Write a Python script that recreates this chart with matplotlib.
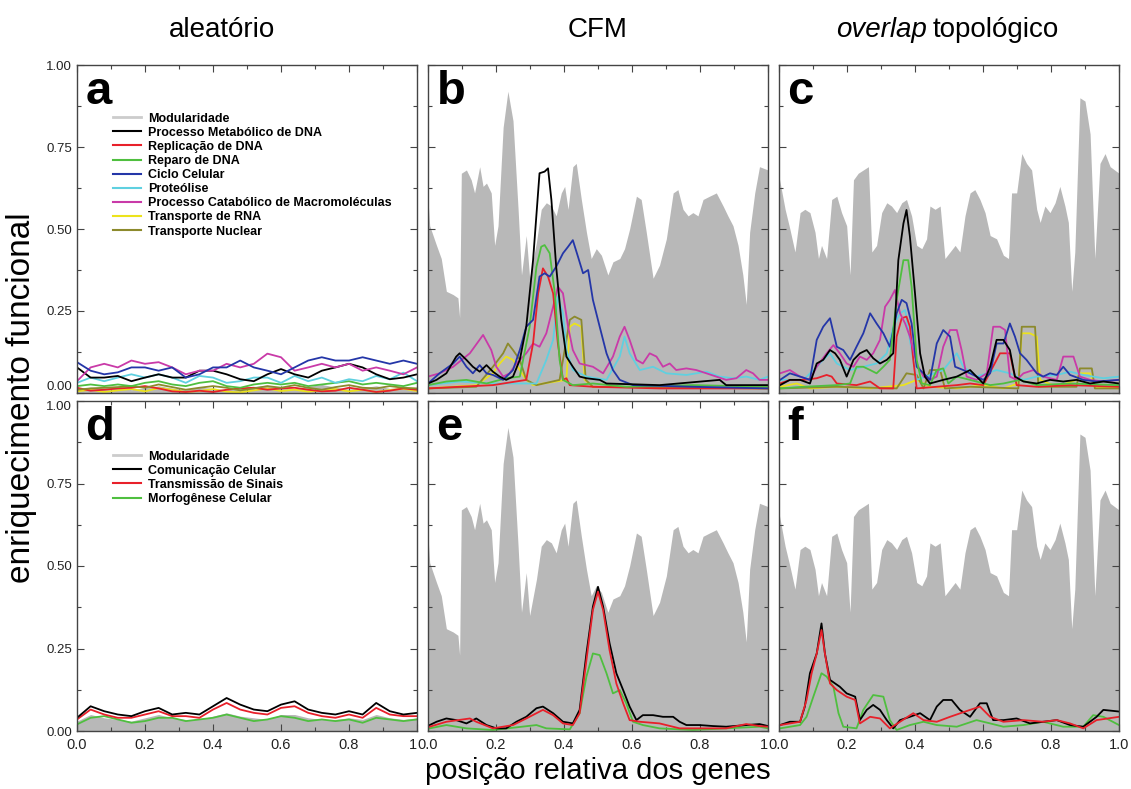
import numpy as np
import matplotlib.pyplot as plt
from matplotlib.lines import Line2D
from matplotlib.ticker import MultipleLocator, FormatStrFormatter

plt.rcParams['font.family'] = ['Liberation Sans', 'DejaVu Sans']

# ---------------- data ----------------
col_titles = ['aleatório', 'CFM', 'topológico']
top_labels = ['Modularidade', 'Processo Metabólico de DNA', 'Replicação de DNA',
              'Reparo de DNA', 'Ciclo Celular', 'Proteólise',
              'Processo Catabólico de Macromoléculas', 'Transporte de RNA',
              'Transporte Nuclear']
bot_labels = ['Modularidade', 'Comunicação Celular', 'Transmissão de Sinais',
              'Morfogênese Celular']

# modularity, CFM ordering (panels b, e)
mod_cfm_x = [0.0, 0.005, 0.025, 0.039, 0.054, 0.074, 0.088, 0.093, 0.098, 0.113, 0.127, 0.137,
             0.152, 0.162, 0.172, 0.186, 0.196, 0.206, 0.221, 0.235, 0.25, 0.265, 0.275, 0.289,
             0.299, 0.319, 0.333, 0.348, 0.363, 0.377, 0.392, 0.402, 0.412, 0.426, 0.436, 0.451,
             0.466, 0.48, 0.495, 0.51, 0.529, 0.544, 0.564, 0.578, 0.593, 0.613, 0.627, 0.642,
             0.662, 0.681, 0.701, 0.721, 0.735, 0.75, 0.765, 0.779, 0.794, 0.809, 0.828, 0.848,
             0.868, 0.882, 0.897, 0.912, 0.926, 0.936, 0.946, 0.961, 0.975, 1.0]
mod_cfm_y = [0.59, 0.51, 0.45, 0.41, 0.31, 0.30, 0.29, 0.23, 0.67, 0.68, 0.65, 0.61,
             0.69, 0.63, 0.64, 0.61, 0.45, 0.51, 0.81, 0.92, 0.83, 0.56, 0.36, 0.48,
             0.35, 0.46, 0.56, 0.58, 0.57, 0.54, 0.61, 0.63, 0.56, 0.69, 0.70, 0.59,
             0.49, 0.41, 0.44, 0.42, 0.36, 0.40, 0.41, 0.44, 0.50, 0.60, 0.59, 0.49,
             0.35, 0.39, 0.47, 0.61, 0.62, 0.56, 0.54, 0.55, 0.54, 0.59, 0.60, 0.61,
             0.57, 0.54, 0.51, 0.45, 0.36, 0.27, 0.49, 0.61, 0.69, 0.68]

# modularity, topological overlap ordering (panels c, f)
mod_ovl_x = [0.0, 0.018, 0.032, 0.047, 0.062, 0.076, 0.091, 0.106, 0.116, 0.125, 0.140, 0.155,
             0.17, 0.184, 0.199, 0.209, 0.219, 0.233, 0.248, 0.263, 0.273, 0.287, 0.302, 0.317,
             0.331, 0.346, 0.361, 0.375, 0.39, 0.405, 0.42, 0.434, 0.444, 0.459, 0.474, 0.488,
             0.503, 0.518, 0.532, 0.547, 0.562, 0.576, 0.591, 0.606, 0.621, 0.64, 0.66, 0.675,
             0.684, 0.699, 0.714, 0.728, 0.743, 0.758, 0.768, 0.782, 0.797, 0.812, 0.826, 0.841,
             0.851, 0.861, 0.87, 0.885, 0.9, 0.915, 0.929, 0.944, 0.959, 0.974, 1.0]
mod_ovl_y = [0.66, 0.56, 0.50, 0.43, 0.55, 0.56, 0.55, 0.49, 0.41, 0.45, 0.41, 0.59,
             0.60, 0.55, 0.51, 0.36, 0.65, 0.67, 0.68, 0.69, 0.43, 0.45, 0.55, 0.58,
             0.57, 0.55, 0.58, 0.59, 0.54, 0.45, 0.44, 0.47, 0.57, 0.56, 0.57, 0.41,
             0.43, 0.45, 0.43, 0.54, 0.61, 0.62, 0.59, 0.55, 0.48, 0.47, 0.42, 0.41,
             0.61, 0.61, 0.73, 0.70, 0.68, 0.56, 0.52, 0.57, 0.55, 0.58, 0.63, 0.57,
             0.52, 0.31, 0.43, 0.90, 0.89, 0.79, 0.41, 0.70, 0.73, 0.69, 0.67]

# random ordering (panels a, d)
ale_x = [0.00, 0.04, 0.08, 0.12, 0.16, 0.20, 0.24, 0.28, 0.32, 0.36, 0.40, 0.44, 0.48,
         0.52, 0.56, 0.60, 0.64, 0.68, 0.72, 0.76, 0.80, 0.84, 0.88, 0.92, 0.96, 1.00]
a_mod = [0.012, 0.018, 0.015, 0.020, 0.010, 0.016, 0.022, 0.015, 0.010, 0.018, 0.014, 0.010, 0.016,
         0.020, 0.024, 0.015, 0.012, 0.020, 0.026, 0.018, 0.012, 0.016, 0.022, 0.014, 0.018, 0.015]
a_black = [0.078, 0.047, 0.047, 0.052, 0.036, 0.047, 0.057, 0.047, 0.047, 0.068, 0.068, 0.057, 0.042,
           0.036, 0.057, 0.073, 0.057, 0.047, 0.068, 0.078, 0.089, 0.078, 0.057, 0.042, 0.047, 0.057]
a_red = [0.016, 0.007, 0.010, 0.014, 0.016, 0.021, 0.014, 0.005, 0.003, 0.007, 0.003, 0.010, 0.014,
         0.016, 0.010, 0.014, 0.016, 0.010, 0.005, 0.007, 0.016, 0.010, 0.003, 0.007, 0.014, 0.010]
a_green = [0.021, 0.026, 0.021, 0.026, 0.021, 0.031, 0.036, 0.026, 0.021, 0.031, 0.036, 0.021, 0.016,
           0.026, 0.031, 0.026, 0.031, 0.021, 0.026, 0.031, 0.036, 0.026, 0.031, 0.026, 0.021, 0.031]
a_blue = [0.094, 0.068, 0.057, 0.063, 0.078, 0.078, 0.068, 0.078, 0.047, 0.057, 0.078, 0.078, 0.099,
          0.078, 0.068, 0.057, 0.078, 0.099, 0.109, 0.099, 0.099, 0.109, 0.099, 0.089, 0.099, 0.089]
a_cyan = [0.031, 0.047, 0.036, 0.047, 0.057, 0.047, 0.057, 0.047, 0.031, 0.052, 0.047, 0.031, 0.036,
          0.047, 0.047, 0.031, 0.052, 0.036, 0.047, 0.031, 0.042, 0.036, 0.052, 0.042, 0.062, 0.036]
a_magenta = [0.036, 0.078, 0.089, 0.078, 0.099, 0.089, 0.094, 0.078, 0.057, 0.068, 0.068, 0.089, 0.078,
             0.089, 0.120, 0.109, 0.068, 0.078, 0.089, 0.078, 0.089, 0.068, 0.078, 0.068, 0.057, 0.078]
a_yellow = [0.005, 0.010, 0.003, 0.008, 0.012, 0.005, 0.015, 0.010, 0.003, 0.006, 0.012, 0.004, 0.002,
            0.008, 0.014, 0.006, 0.010, 0.004, 0.008, 0.012, 0.005, 0.010, 0.003, 0.009, 0.013, 0.006]
a_olive = [0.010, 0.014, 0.016, 0.018, 0.021, 0.016, 0.026, 0.018, 0.010, 0.016, 0.021, 0.016, 0.008,
           0.014, 0.021, 0.016, 0.024, 0.016, 0.010, 0.018, 0.024, 0.016, 0.014, 0.021, 0.016, 0.014]

d_mod = [0.030, 0.050, 0.040, 0.035, 0.030, 0.040, 0.050, 0.040, 0.035, 0.035, 0.045, 0.055, 0.045,
         0.040, 0.035, 0.050, 0.050, 0.040, 0.035, 0.035, 0.040, 0.035, 0.050, 0.040, 0.035, 0.040]
d_black = [0.040, 0.075, 0.060, 0.050, 0.045, 0.060, 0.070, 0.050, 0.055, 0.050, 0.075, 0.100, 0.080,
           0.065, 0.060, 0.080, 0.090, 0.065, 0.055, 0.050, 0.060, 0.050, 0.085, 0.060, 0.050, 0.055]
d_red = [0.035, 0.065, 0.050, 0.040, 0.040, 0.050, 0.060, 0.045, 0.045, 0.040, 0.065, 0.085, 0.065,
         0.055, 0.050, 0.070, 0.075, 0.055, 0.045, 0.040, 0.050, 0.040, 0.070, 0.050, 0.045, 0.045]
d_green = [0.020, 0.040, 0.045, 0.035, 0.025, 0.030, 0.040, 0.040, 0.030, 0.035, 0.040, 0.050, 0.040,
           0.030, 0.035, 0.045, 0.040, 0.030, 0.035, 0.030, 0.035, 0.025, 0.040, 0.035, 0.030, 0.035]

# panel b (CFM, top terms)
b_black_x = [0, 0.025, 0.054, 0.083, 0.093, 0.113, 0.132, 0.152, 0.172, 0.191, 0.211, 0.230, 0.250, 0.270,
             0.289, 0.309, 0.328, 0.343, 0.353, 0.363, 0.377, 0.392, 0.407, 0.426, 0.446, 0.466, 0.505,
             0.525, 0.681, 0.858, 0.877, 1.0]
b_black_y = [0.029, 0.040, 0.060, 0.111, 0.121, 0.101, 0.080, 0.065, 0.085, 0.065, 0.050, 0.040, 0.050, 0.101,
             0.202, 0.405, 0.670, 0.675, 0.685, 0.588, 0.385, 0.223, 0.111, 0.080, 0.050, 0.045, 0.040,
             0.029, 0.024, 0.040, 0.024, 0.024]
b_red_x = [0, 0.093, 0.191, 0.289, 0.309, 0.324, 0.338, 0.353, 0.368, 0.382, 0.397, 0.407, 0.417, 0.485, 0.681, 1.0]
b_red_y = [0.014, 0.019, 0.024, 0.040, 0.151, 0.304, 0.380, 0.355, 0.304, 0.151, 0.040, 0.045, 0.024, 0.019, 0.014, 0.014]
b_green_x = [0, 0.054, 0.113, 0.172, 0.230, 0.270, 0.299, 0.319, 0.333, 0.343, 0.358, 0.373, 0.387, 0.397,
             0.426, 0.485, 0.583, 0.779, 1.0]
b_green_y = [0.024, 0.035, 0.040, 0.029, 0.045, 0.050, 0.202, 0.385, 0.446, 0.451, 0.426, 0.304, 0.101, 0.040,
             0.024, 0.029, 0.019, 0.024, 0.019]
b_blue_x = [0, 0.034, 0.074, 0.093, 0.113, 0.132, 0.152, 0.172, 0.191, 0.221, 0.250, 0.270, 0.289, 0.309,
            0.328, 0.343, 0.358, 0.377, 0.397, 0.412, 0.426, 0.441, 0.456, 0.471, 0.485, 0.505, 0.525,
            0.544, 0.564, 0.603, 0.779, 1.0]
b_blue_y = [0.029, 0.060, 0.090, 0.111, 0.080, 0.060, 0.085, 0.060, 0.055, 0.040, 0.070, 0.131, 0.202, 0.223,
            0.355, 0.365, 0.355, 0.385, 0.426, 0.446, 0.466, 0.416, 0.365, 0.375, 0.284, 0.202, 0.121,
            0.070, 0.040, 0.024, 0.019, 0.014]
b_magenta_x = [0, 0.034, 0.074, 0.123, 0.162, 0.186, 0.201, 0.221, 0.240, 0.260, 0.289, 0.309, 0.328, 0.348,
               0.368, 0.382, 0.397, 0.412, 0.426, 0.446, 0.485, 0.515, 0.544, 0.564, 0.578, 0.593, 0.613,
               0.632, 0.652, 0.672, 0.691, 0.711, 0.730, 0.760, 0.789, 0.819, 0.848, 0.877, 0.907, 0.936,
               0.956, 0.975, 1.0]
b_magenta_y = [0.050, 0.060, 0.080, 0.121, 0.177, 0.131, 0.080, 0.050, 0.060, 0.090, 0.121, 0.151, 0.141, 0.182,
               0.263, 0.324, 0.304, 0.202, 0.131, 0.090, 0.080, 0.060, 0.111, 0.172, 0.202, 0.162, 0.101,
               0.090, 0.121, 0.111, 0.080, 0.090, 0.070, 0.075, 0.070, 0.060, 0.050, 0.040, 0.045, 0.070,
               0.060, 0.040, 0.040]
b_cyan_x = [0, 0.093, 0.191, 0.319, 0.348, 0.368, 0.382, 0.397, 0.407, 0.426, 0.466, 0.525, 0.564, 0.578,
            0.593, 0.623, 0.662, 0.701, 0.760, 0.819, 0.858, 0.897, 0.936, 0.975, 1.0]
b_cyan_y = [0.024, 0.035, 0.029, 0.029, 0.101, 0.162, 0.294, 0.243, 0.131, 0.070, 0.050, 0.040, 0.111, 0.172,
            0.121, 0.070, 0.080, 0.060, 0.055, 0.065, 0.050, 0.045, 0.050, 0.040, 0.050]
b_yellow_x = [0, 0.142, 0.191, 0.211, 0.230, 0.250, 0.270, 0.289, 0.309, 0.407, 0.417, 0.431, 0.451, 0.461, 0.485, 1.0]
b_yellow_y = [0.014, 0.024, 0.060, 0.090, 0.111, 0.101, 0.070, 0.040, 0.024, 0.040, 0.202, 0.212, 0.202, 0.040, 0.019, 0.014]
b_olive_x = [0, 0.142, 0.191, 0.221, 0.235, 0.250, 0.270, 0.289, 0.319, 0.387, 0.417, 0.431, 0.451, 0.464, 0.485, 1.0]
b_olive_y = [0.014, 0.019, 0.080, 0.121, 0.151, 0.131, 0.101, 0.040, 0.024, 0.040, 0.223, 0.233, 0.223, 0.040, 0.019, 0.014]

# panel c (topological overlap, top terms)
c_black_x = [0.003, 0.032, 0.062, 0.091, 0.111, 0.130, 0.150, 0.165, 0.179, 0.199, 0.219, 0.238, 0.258, 0.277,
             0.297, 0.317, 0.336, 0.351, 0.366, 0.375, 0.385, 0.400, 0.415, 0.429, 0.444, 0.483, 0.523,
             0.562, 0.601, 0.621, 0.640, 0.660, 0.679, 0.694, 0.719, 0.758, 0.797, 0.836, 0.875, 0.915,
             0.954, 1.0]
c_black_y = [0.024, 0.040, 0.040, 0.029, 0.090, 0.101, 0.131, 0.121, 0.101, 0.050, 0.101, 0.121, 0.131, 0.106,
             0.090, 0.101, 0.121, 0.405, 0.517, 0.558, 0.477, 0.304, 0.121, 0.050, 0.029, 0.040, 0.050,
             0.070, 0.029, 0.080, 0.162, 0.162, 0.131, 0.050, 0.035, 0.029, 0.040, 0.035, 0.040, 0.029,
             0.035, 0.029]
c_red_x = [0.003, 0.032, 0.072, 0.111, 0.140, 0.155, 0.170, 0.228, 0.268, 0.297, 0.336, 0.346, 0.361, 0.375,
           0.385, 0.395, 0.405, 0.464, 0.523, 0.562, 0.601, 0.650, 0.679, 0.699, 0.758, 0.856, 1.0]
c_red_y = [0.029, 0.040, 0.040, 0.045, 0.055, 0.050, 0.029, 0.024, 0.035, 0.014, 0.014, 0.172, 0.228, 0.233,
           0.202, 0.101, 0.014, 0.019, 0.024, 0.029, 0.024, 0.121, 0.121, 0.024, 0.019, 0.024, 0.019]
c_green_x = [0.003, 0.072, 0.170, 0.209, 0.228, 0.248, 0.268, 0.287, 0.307, 0.326, 0.346, 0.366, 0.380, 0.390,
             0.405, 0.420, 0.444, 0.464, 0.483, 0.498, 0.523, 0.562, 0.621, 0.660, 0.709, 0.758, 0.856, 1.0]
c_green_y = [0.014, 0.019, 0.024, 0.029, 0.080, 0.080, 0.070, 0.060, 0.080, 0.101, 0.284, 0.405, 0.405, 0.324,
             0.101, 0.029, 0.024, 0.070, 0.075, 0.029, 0.050, 0.040, 0.024, 0.029, 0.040, 0.024, 0.029, 0.024]
c_blue_x = [0.003, 0.032, 0.062, 0.091, 0.111, 0.130, 0.150, 0.170, 0.189, 0.209, 0.228, 0.248, 0.268, 0.287,
            0.307, 0.326, 0.346, 0.361, 0.375, 0.390, 0.405, 0.425, 0.444, 0.464, 0.483, 0.503, 0.518,
            0.542, 0.581, 0.601, 0.621, 0.640, 0.660, 0.679, 0.694, 0.709, 0.728, 0.758, 0.777, 0.797,
            0.817, 0.836, 0.856, 0.895, 0.934, 1.0]
c_blue_y = [0.040, 0.060, 0.050, 0.040, 0.162, 0.202, 0.228, 0.141, 0.131, 0.101, 0.141, 0.182, 0.243, 0.212,
            0.182, 0.141, 0.243, 0.284, 0.274, 0.212, 0.080, 0.060, 0.040, 0.151, 0.192, 0.172, 0.080,
            0.070, 0.050, 0.040, 0.060, 0.151, 0.151, 0.212, 0.172, 0.121, 0.101, 0.060, 0.050, 0.060,
            0.055, 0.080, 0.055, 0.040, 0.035, 0.040]
c_magenta_x = [0.003, 0.032, 0.062, 0.091, 0.111, 0.140, 0.160, 0.179, 0.199, 0.219, 0.238, 0.258, 0.277, 0.297,
               0.312, 0.326, 0.341, 0.356, 0.371, 0.385, 0.405, 0.425, 0.444, 0.464, 0.483, 0.503, 0.523,
               0.537, 0.552, 0.581, 0.611, 0.630, 0.650, 0.665, 0.679, 0.699, 0.719, 0.748, 0.777, 0.817,
               0.836, 0.866, 0.885, 0.915, 0.954, 1.0]
c_magenta_y = [0.060, 0.070, 0.050, 0.040, 0.080, 0.121, 0.146, 0.121, 0.090, 0.080, 0.111, 0.101, 0.121, 0.162,
               0.263, 0.284, 0.314, 0.243, 0.212, 0.172, 0.090, 0.050, 0.040, 0.050, 0.141, 0.192, 0.192,
               0.131, 0.050, 0.040, 0.060, 0.202, 0.202, 0.192, 0.050, 0.040, 0.060, 0.070, 0.050, 0.040,
               0.111, 0.111, 0.050, 0.040, 0.035, 0.040]
c_cyan_x = [0.003, 0.072, 0.111, 0.130, 0.150, 0.170, 0.209, 0.248, 0.287, 0.317, 0.336, 0.356, 0.371, 0.385,
            0.405, 0.483, 0.523, 0.542, 0.581, 0.640, 0.679, 0.719, 0.758, 0.817, 0.856, 0.895, 0.954, 1.0]
c_cyan_y = [0.040, 0.040, 0.080, 0.101, 0.121, 0.090, 0.070, 0.080, 0.090, 0.121, 0.202, 0.243, 0.253, 0.162,
            0.040, 0.070, 0.121, 0.080, 0.050, 0.070, 0.060, 0.040, 0.050, 0.055, 0.065, 0.055, 0.045, 0.050]
c_yellow_x = [0.003, 0.052, 0.091, 0.170, 0.268, 0.366, 0.405, 0.444, 0.523, 0.601, 0.660, 0.704, 0.714, 0.738,
              0.758, 0.768, 0.817, 0.875, 0.885, 0.915, 0.929, 1.0]
c_yellow_y = [0.019, 0.029, 0.014, 0.019, 0.014, 0.024, 0.040, 0.019, 0.014, 0.024, 0.014, 0.029, 0.182, 0.182,
              0.172, 0.040, 0.019, 0.040, 0.060, 0.060, 0.019, 0.014]
c_olive_x = [0.003, 0.170, 0.346, 0.375, 0.405, 0.425, 0.444, 0.474, 0.488, 0.562, 0.704, 0.714, 0.753, 0.763,
             0.875, 0.885, 0.920, 0.929, 1.0]
c_olive_y = [0.014, 0.019, 0.014, 0.060, 0.055, 0.014, 0.070, 0.070, 0.014, 0.019, 0.014, 0.202, 0.202, 0.019,
             0.019, 0.075, 0.075, 0.014, 0.014]

# panel e (CFM, bottom terms)
e_black_x = [0.005, 0.025, 0.054, 0.083, 0.113, 0.142, 0.172, 0.201, 0.230, 0.260, 0.289, 0.319, 0.338, 0.368,
             0.397, 0.426, 0.446, 0.466, 0.485, 0.500, 0.515, 0.534, 0.554, 0.574, 0.593, 0.613, 0.632,
             0.662, 0.691, 0.721, 0.740, 0.760, 0.799, 0.838, 0.877, 0.936, 0.975, 1.0]
e_black_y = [0.018, 0.028, 0.038, 0.033, 0.023, 0.038, 0.018, 0.008, 0.008, 0.028, 0.043, 0.069, 0.074, 0.054,
             0.028, 0.023, 0.064, 0.235, 0.377, 0.437, 0.377, 0.266, 0.175, 0.124, 0.074, 0.033, 0.048,
             0.048, 0.043, 0.043, 0.028, 0.018, 0.018, 0.015, 0.013, 0.018, 0.021, 0.015]
e_red_x = [0.005, 0.054, 0.123, 0.142, 0.191, 0.250, 0.289, 0.338, 0.368, 0.397, 0.426, 0.446, 0.466, 0.485,
           0.500, 0.515, 0.534, 0.554, 0.574, 0.593, 0.623, 0.681, 0.740, 0.877, 0.936, 0.975, 1.0]
e_red_y = [0.013, 0.028, 0.038, 0.028, 0.008, 0.018, 0.038, 0.064, 0.048, 0.023, 0.018, 0.054, 0.215, 0.367,
           0.422, 0.367, 0.245, 0.144, 0.084, 0.033, 0.028, 0.023, 0.008, 0.008, 0.021, 0.015, 0.013]
e_green_x = [0.005, 0.054, 0.113, 0.191, 0.319, 0.348, 0.417, 0.446, 0.466, 0.485, 0.505, 0.525, 0.544, 0.564,
             0.583, 0.603, 0.632, 0.681, 0.779, 0.877, 0.975, 1.0]
e_green_y = [0.008, 0.018, 0.008, 0.003, 0.018, 0.008, 0.005, 0.054, 0.165, 0.235, 0.230, 0.175, 0.114, 0.124,
             0.084, 0.028, 0.018, 0.008, 0.003, 0.008, 0.013, 0.008]

# panel f (topological overlap, bottom terms)
f_black_x = [0.003, 0.032, 0.062, 0.076, 0.091, 0.111, 0.125, 0.135, 0.150, 0.165, 0.179, 0.199, 0.224, 0.238,
             0.258, 0.277, 0.297, 0.317, 0.336, 0.356, 0.385, 0.415, 0.444, 0.464, 0.483, 0.508, 0.532,
             0.562, 0.591, 0.611, 0.630, 0.660, 0.699, 0.738, 0.777, 0.817, 0.856, 0.895, 0.934, 0.954, 1.0]
f_black_y = [0.018, 0.028, 0.028, 0.074, 0.175, 0.235, 0.326, 0.235, 0.155, 0.144, 0.134, 0.114, 0.104, 0.033,
             0.064, 0.079, 0.064, 0.033, 0.008, 0.033, 0.043, 0.054, 0.033, 0.074, 0.094, 0.094, 0.064,
             0.043, 0.084, 0.084, 0.033, 0.033, 0.038, 0.023, 0.028, 0.033, 0.018, 0.013, 0.043, 0.064, 0.059]
f_red_x = [0.003, 0.062, 0.081, 0.096, 0.111, 0.125, 0.135, 0.150, 0.170, 0.199, 0.224, 0.238, 0.268, 0.297,
           0.326, 0.356, 0.395, 0.425, 0.464, 0.503, 0.562, 0.591, 0.621, 0.660, 0.719, 0.777, 0.817,
           0.856, 0.895, 0.934, 1.0]
f_red_y = [0.018, 0.028, 0.094, 0.175, 0.235, 0.306, 0.235, 0.144, 0.124, 0.104, 0.094, 0.023, 0.043, 0.038,
           0.008, 0.028, 0.054, 0.033, 0.028, 0.043, 0.064, 0.074, 0.043, 0.028, 0.033, 0.028, 0.033,
           0.023, 0.008, 0.033, 0.043]
f_green_x = [0.003, 0.062, 0.081, 0.101, 0.125, 0.140, 0.160, 0.175, 0.189, 0.228, 0.248, 0.277, 0.307, 0.326,
             0.346, 0.385, 0.425, 0.464, 0.523, 0.581, 0.621, 0.660, 0.719, 0.777, 0.836, 0.895, 0.924,
             0.954, 1.0]
f_green_y = [0.008, 0.018, 0.043, 0.104, 0.175, 0.165, 0.134, 0.054, 0.013, 0.008, 0.064, 0.109, 0.104, 0.033,
             0.003, 0.018, 0.028, 0.018, 0.013, 0.033, 0.023, 0.013, 0.018, 0.028, 0.013, 0.013, 0.048,
             0.043, 0.018]

# ---------------- styling ----------------
GRAY = '#b8b8b8'
C = {'black': '#000000', 'red': '#e8202a', 'green': '#4fbf3f', 'blue': '#2436a8',
     'cyan': '#5fd0e0', 'magenta': '#c93aa8', 'yellow': '#ece31c', 'olive': '#8c8a2c'}
top_keys = ['black', 'red', 'green', 'blue', 'cyan', 'magenta', 'yellow', 'olive']
bot_keys = ['black', 'red', 'green']
LW = 1.3

W, H = 1131., 789.
fig = plt.figure(figsize=(W / 100, H / 100), dpi=100)

lefts = [77, 428, 779]
rows = [(65, 393), (401, 731)]


def make_ax(col, row):
    l = lefts[col]
    t, b = rows[row]
    ax = fig.add_axes([l / W, 1 - b / H, 340 / W, (b - t) / H])
    ax.set_xlim(0, 1)
    ax.set_ylim(0, 1)
    ax.set_xticks([0, 0.2, 0.4, 0.6, 0.8, 1.0])
    ax.xaxis.set_minor_locator(MultipleLocator(0.1))
    ax.set_yticks([0, 0.25, 0.5, 0.75, 1.0])
    ax.yaxis.set_minor_locator(MultipleLocator(0.125))
    ax.yaxis.set_major_formatter(FormatStrFormatter('%.2f'))
    ax.tick_params(which='both', direction='in', top=True, right=True,
                   color='#444444', width=0.8, labelcolor='#222222')
    ax.tick_params(which='major', length=5)
    ax.tick_params(which='minor', length=3)
    ax.tick_params(axis='x', labelsize=10.5, pad=5)
    ax.tick_params(axis='y', labelsize=9.5)
    if row == 0:
        ax.tick_params(axis='x', labelbottom=False)
    else:
        # neighbouring panels share the border label: "1" then "0.0"
        labels = ['0.0', '0.2', '0.4', '0.6', '0.8', '1.0' if col == 2 else '1']
        ax.set_xticklabels(labels)
        if col < 2:
            ax.xaxis.get_major_ticks()[-1].label1.set_horizontalalignment('right')
    if col > 0:
        ax.tick_params(axis='y', labelleft=False)
    for s in ax.spines.values():
        s.set_color('#444444')
        s.set_linewidth(1.0)
    return ax


def panel_letter(ax, letter):
    ax.text(0.025, 0.985, letter, transform=ax.transAxes, fontsize=34,
            fontweight='bold', va='top', ha='left', zorder=5)


def add_legend(ax, keys, labels, top):
    handles = [Line2D([], [], color='#cccccc', lw=2)] + [Line2D([], [], color=C[k], lw=1.5) for k in keys]
    ax.legend(handles, labels, loc='upper left', bbox_to_anchor=(0.105, top), frameon=False,
              prop={'size': 9, 'weight': 'bold'}, handlelength=2.3, handletextpad=0.5,
              labelspacing=0.17, borderpad=0, borderaxespad=0)


# ---- panel a ----
ax = make_ax(0, 0)
ax.fill_between(ale_x, 0, a_mod, color=GRAY, lw=0, zorder=1)
for key, ys in [('yellow', a_yellow), ('red', a_red), ('olive', a_olive), ('green', a_green),
                ('cyan', a_cyan), ('black', a_black), ('magenta', a_magenta), ('blue', a_blue)]:
    ax.plot(ale_x, ys, color=C[key], lw=LW, zorder=2)
panel_letter(ax, 'a')
add_legend(ax, top_keys, top_labels, 0.855)
ax.yaxis.get_major_ticks()[0].label1.set_verticalalignment('bottom')

# ---- panel b ----
ax = make_ax(1, 0)
ax.fill_between(mod_cfm_x, 0, mod_cfm_y, color=GRAY, lw=0, zorder=1)
for key, xs, ys in [('yellow', b_yellow_x, b_yellow_y), ('olive', b_olive_x, b_olive_y),
                    ('cyan', b_cyan_x, b_cyan_y), ('magenta', b_magenta_x, b_magenta_y),
                    ('red', b_red_x, b_red_y), ('green', b_green_x, b_green_y),
                    ('blue', b_blue_x, b_blue_y), ('black', b_black_x, b_black_y)]:
    ax.plot(xs, ys, color=C[key], lw=LW, zorder=2)
panel_letter(ax, 'b')

# ---- panel c ----
ax = make_ax(2, 0)
ax.fill_between(mod_ovl_x, 0, mod_ovl_y, color=GRAY, lw=0, zorder=1)
for key, xs, ys in [('yellow', c_yellow_x, c_yellow_y), ('olive', c_olive_x, c_olive_y),
                    ('cyan', c_cyan_x, c_cyan_y), ('red', c_red_x, c_red_y),
                    ('magenta', c_magenta_x, c_magenta_y), ('blue', c_blue_x, c_blue_y),
                    ('green', c_green_x, c_green_y), ('black', c_black_x, c_black_y)]:
    ax.plot(xs, ys, color=C[key], lw=LW, zorder=2)
panel_letter(ax, 'c')

# ---- panel d ----
ax = make_ax(0, 1)
ax.fill_between(ale_x, 0, d_mod, color=GRAY, lw=0, zorder=1)
for key, ys in [('green', d_green), ('red', d_red), ('black', d_black)]:
    ax.plot(ale_x, ys, color=C[key], lw=LW, zorder=2)
panel_letter(ax, 'd')
add_legend(ax, bot_keys, bot_labels, 0.85)
ax.yaxis.get_major_ticks()[-1].label1.set_verticalalignment('top')

# ---- panel e ----
ax = make_ax(1, 1)
ax.fill_between(mod_cfm_x, 0, mod_cfm_y, color=GRAY, lw=0, zorder=1)
for key, xs, ys in [('green', e_green_x, e_green_y), ('black', e_black_x, e_black_y),
                    ('red', e_red_x, e_red_y)]:
    ax.plot(xs, ys, color=C[key], lw=LW, zorder=2)
panel_letter(ax, 'e')

# ---- panel f ----
ax = make_ax(2, 1)
ax.fill_between(mod_ovl_x, 0, mod_ovl_y, color=GRAY, lw=0, zorder=1)
for key, xs, ys in [('green', f_green_x, f_green_y), ('black', f_black_x, f_black_y),
                    ('red', f_red_x, f_red_y)]:
    ax.plot(xs, ys, color=C[key], lw=LW, zorder=2)
panel_letter(ax, 'f')

# ---- column titles and axis labels ----
ty = 1 - 30 / H
fig.text(222 / W, ty, col_titles[0], ha='center', va='center', fontsize=20)
fig.text(598 / W, ty, col_titles[1], ha='center', va='center', fontsize=20)
t1 = fig.text(836 / W, ty, 'overlap', ha='left', va='center', fontsize=20, style='italic')
r = fig.canvas.get_renderer()
bb = t1.get_window_extent(renderer=r)
fig.text((bb.x1 + 6) / W, ty, col_titles[2], ha='left', va='center', fontsize=20)

fig.text(22 / W, 1 - 398 / H, 'enriquecimento funcional', rotation=90, ha='center', va='center', fontsize=24)
fig.text(598 / W, 1 - 771 / H, 'posição relativa dos genes', ha='center', va='center', fontsize=21)

fig.savefig('out.png', dpi=100)
